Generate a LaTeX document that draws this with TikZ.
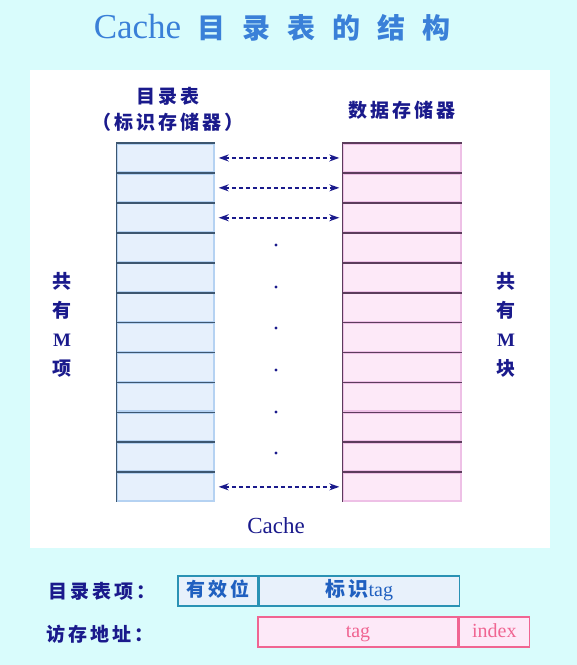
\documentclass[tikz,border=0pt]{standalone}
\usepackage{fontspec}
\setmainfont{Liberation Serif}
\newfontfamily\cjk{Noto Sans CJK SC}[LetterSpace=15]
\usetikzlibrary{arrows.meta}
\definecolor{bgcyan}{HTML}{D9FCFC}
\definecolor{navy}{HTML}{1A1A8C}
\definecolor{titleblue}{HTML}{3A80D8}
\definecolor{dirfill}{HTML}{E6F0FC}
\definecolor{diredge}{HTML}{B5D2F2}
\definecolor{dirdark}{HTML}{3C5670}
\definecolor{memfill}{HTML}{FDE9F8}
\definecolor{memedge}{HTML}{EEC0E6}
\definecolor{memdark}{HTML}{5C3C5C}
\definecolor{entryteal}{HTML}{2A92B4}
\definecolor{entryfill}{HTML}{E8F1FB}
\definecolor{entryblue}{HTML}{2060C0}
\definecolor{addrpink}{HTML}{F06592}

\begin{document}
\begin{tikzpicture}[x=1pt,y=-1pt,>={Stealth[length=10pt,width=7pt]},
  dirbox/.style={rectangle,minimum width=97pt,minimum height=28pt,inner sep=0pt,
    fill=dirfill,draw=diredge,line width=1.4pt},
  membox/.style={rectangle,minimum width=118pt,minimum height=28pt,inner sep=0pt,
    fill=memfill,draw=memedge,line width=1.4pt},
  entrybox/.style={rectangle,minimum height=30pt,inner sep=0pt,fill=entryfill,
    draw=entryteal,line width=1.3pt,text=entryblue,text height=14pt,text depth=4pt,
    font=\fontsize{20}{20}\selectfont},
  addrbox/.style={rectangle,minimum height=30pt,inner sep=0pt,fill=memfill,
    draw=addrpink,line width=1.3pt,text=addrpink,text height=14pt,text depth=4pt,
    font=\fontsize{20}{20}\selectfont},
  lbl/.style={text=navy,font=\cjk\bfseries\fontsize{19}{29}\selectfont,align=center}]
\fill[bgcyan] (0,0) rectangle (577,665);
\fill[white] (30,70) rectangle (550,548);

% title
\node[text=titleblue] (title) at (272,28) {\fontsize{35}{36}\selectfont Cache\hspace{16pt}{\cjk\bfseries\fontsize{28}{30}\selectfont 目\hspace{17pt}录\hspace{17pt}表\hspace{17pt}的\hspace{17pt}结\hspace{17pt}构}};

% column heads
\node[lbl,font=\cjk\bfseries\fontsize{19}{26}\selectfont] (dirhead) at (168,109) {目录表\\（标识存储器）};
\node[lbl] (memhead) at (402,110) {数据存储器};

% rows
\foreach \i in {1,...,12}{
  \node[dirbox] (d\i) at (165.5,{143+29.9*(\i-0.5)}) {};
  \draw[dirdark,line width=1.6pt] (d\i.south west) -- (d\i.north west) -- (d\i.north east);
  \node[membox] (m\i) at (402,{143+29.9*(\i-0.5)}) {};
  \draw[memdark,line width=1.6pt] (m\i.south west) -- (m\i.north west) -- (m\i.north east);
}
\foreach \i in {1,2,3,12}
  \draw[<->,navy,dash pattern=on 4.5pt off 2.5pt,line width=1.6pt] ([xshift=4pt]d\i.east) -- ([xshift=-3pt]m\i.west);
\foreach \y in {245,287,328,370,412,453}
  \fill[navy] (276,\y) circle (1.6pt);

\node[text=navy,font=\fontsize{23}{24}\selectfont] (cache) at (276,526) {Cache};
\node[lbl] (nitems) at (62,325) {共\\有\\{\rmfamily M}\\项};
\node[lbl] (nblocks) at (506,325) {共\\有\\{\rmfamily M}\\块};

% entry and address formats
\node[lbl] (entrylbl) at (102,591) {目录表项：};
\node[entrybox,minimum width=80pt,font=\cjk\bfseries\fontsize{19}{20}\selectfont] (valid) at (218,591) {有效位};
\node[entrybox,minimum width=200pt,anchor=west] (tagid) at (valid.east) {{\cjk\bfseries 标识}tag};
\node[lbl] (addrlbl) at (100,634) {访存地址：};
\node[addrbox,minimum width=200pt] (atag) at (358,632) {tag};
\node[addrbox,minimum width=70pt,anchor=west] (aidx) at (atag.east) {index};
\end{tikzpicture}
\end{document}
